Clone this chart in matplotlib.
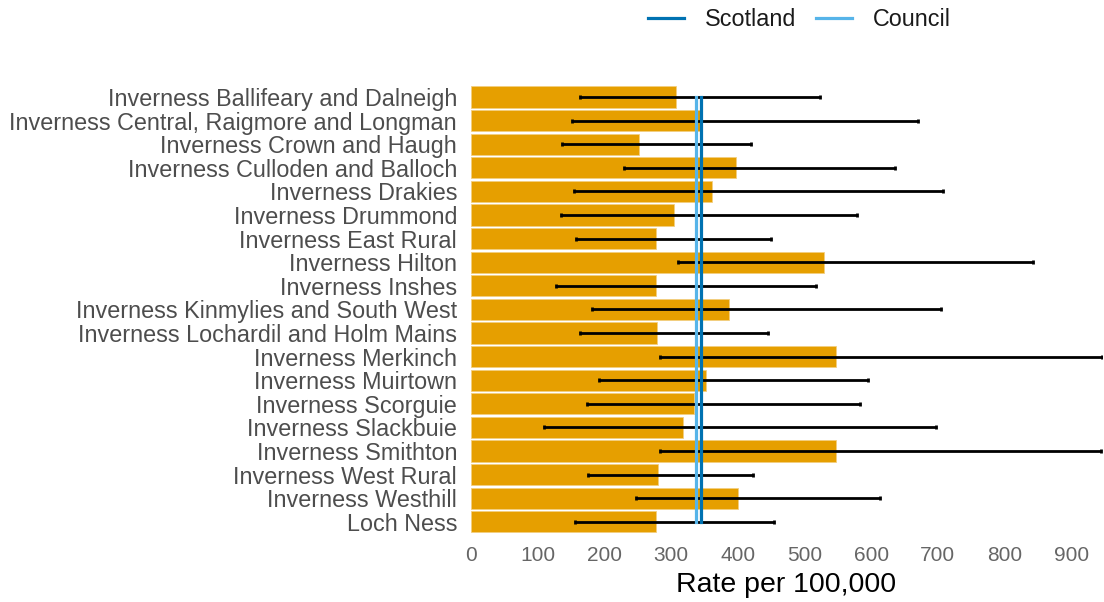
import matplotlib.pyplot as plt
import numpy as np

plt.rcParams['font.family'] = ['Liberation Sans', 'DejaVu Sans']

areas = ["Inverness Ballifeary and Dalneigh",
         "Inverness Central, Raigmore and Longman",
         "Inverness Crown and Haugh",
         "Inverness Culloden and Balloch",
         "Inverness Drakies",
         "Inverness Drummond",
         "Inverness East Rural",
         "Inverness Hilton",
         "Inverness Inshes",
         "Inverness Kinmylies and South West",
         "Inverness Lochardil and Holm Mains",
         "Inverness Merkinch",
         "Inverness Muirtown",
         "Inverness Scorguie",
         "Inverness Slackbuie",
         "Inverness Smithton",
         "Inverness West Rural",
         "Inverness Westhill",
         "Loch Ness"]
rate = [308, 344, 252, 397, 362, 305, 277, 530, 277, 387,
        279, 548, 353, 335, 318, 548, 280, 400, 278]
lower_ci = [164, 152, 137, 230, 155, 135, 158, 310, 127, 181,
            164, 283, 192, 174, 110, 284, 176, 247, 156]
upper_ci = [523, 670, 420, 636, 707, 579, 450, 842, 517, 704,
            445, 946, 596, 583, 697, 944, 423, 613, 455]
scotland = 345
council = 338

rate = np.array(rate)
lo = np.array(lower_ci)
hi = np.array(upper_ci)
y = np.arange(len(areas))

fig = plt.figure(figsize=(11.04, 6.02), dpi=100)
ax = fig.add_axes([0.4266, 0.1096, 0.5715, 0.7529])

ax.barh(y, rate, height=0.9, color="#E69F00", edgecolor="#F3CF80", linewidth=0.6, zorder=1)
ax.errorbar(rate, y, xerr=[rate - lo, hi - rate], fmt="none", ecolor="black",
            elinewidth=2, capsize=1.5, capthick=2, zorder=2)
ax.plot([scotland, scotland], [y[0], y[-1]], color="#0072B2", lw=2.3, zorder=3, label="Scotland")
ax.plot([council, council], [y[0], y[-1]], color="#56B4E9", lw=2.3, zorder=3, label="Council")

ax.set_yticks(y)
ax.set_yticklabels(areas, fontsize=16.8, color="#4D4D4D")
ax.set_ylim(len(areas) - 0.4, -0.6)
ax.set_xlim(0, 946)
ax.set_xticks(np.arange(0, 1000, 100))
ax.tick_params(axis="x", labelsize=15, colors="#666666", length=0, pad=7)
ax.tick_params(axis="y", length=0, pad=10)
ax.set_xlabel("Rate per 100,000", fontsize=20.5, color="black", labelpad=5)
for s in ax.spines.values():
    s.set_visible(False)

handles, labels = ax.get_legend_handles_labels()
fig.legend(handles, labels, loc="center", bbox_to_anchor=(0.724, 0.967), ncol=2,
           frameon=False, fontsize=16.8, handlelength=1.55, columnspacing=0.85,
           handletextpad=0.9, labelcolor="#1A1A1A")

fig.savefig("out.png", dpi=100)
